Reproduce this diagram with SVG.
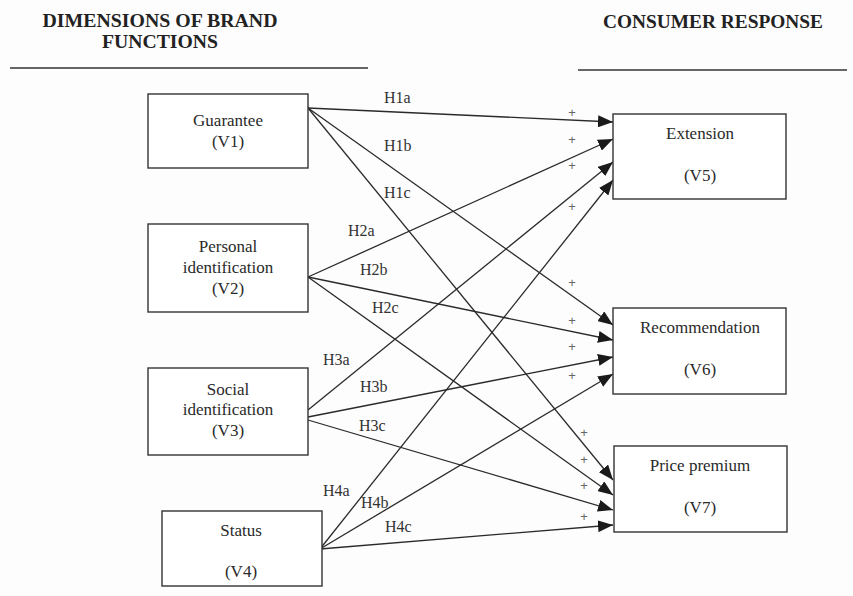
<svg xmlns="http://www.w3.org/2000/svg" width="853" height="596" viewBox="0 0 853 596">
<style>
.box{fill:#fff;stroke:#333;stroke-width:1.4}
.t{font-family:"Liberation Serif","Times New Roman",serif;font-size:17px;fill:#2a2a2a;text-anchor:middle}
.h{font-family:"Liberation Serif","Times New Roman",serif;font-size:19px;font-weight:bold;fill:#222;text-anchor:middle}
.lab{font-family:"Liberation Serif","Times New Roman",serif;font-size:16px;fill:#333}
.p{font-family:"Liberation Sans",Arial,sans-serif;font-size:13px;fill:#666;text-anchor:middle}
.c{stroke:#2a2a2a;stroke-width:1.3;fill:none;marker-end:url(#ah)}
.rule{stroke:#333;stroke-width:1.4}
</style>
<defs>
<marker id="ah" markerUnits="userSpaceOnUse" markerWidth="16" markerHeight="12" refX="15" refY="6" orient="auto">
<path d="M0,0 L15,6 L0,12 z" fill="#1a1a1a"/>
</marker>
</defs>
<rect width="853" height="596" fill="#fdfdfd"/>
<g id="headers">
<text class="h" x="160" y="27" textLength="235" lengthAdjust="spacingAndGlyphs">DIMENSIONS OF BRAND</text>
<text class="h" x="160" y="48" textLength="116" lengthAdjust="spacingAndGlyphs">FUNCTIONS</text>
<line class="rule" x1="10" y1="68" x2="368" y2="68"/>
<text class="h" x="713" y="28" textLength="220" lengthAdjust="spacingAndGlyphs">CONSUMER RESPONSE</text>
<line class="rule" x1="578" y1="70" x2="847" y2="70"/>
</g>
<g id="connectors">
<line class="c" x1="308" y1="108" x2="613" y2="122"/>
<line class="c" x1="308" y1="108" x2="613" y2="325"/>
<line class="c" x1="308" y1="108" x2="613" y2="480"/>
<line class="c" x1="308" y1="277" x2="613" y2="139"/>
<line class="c" x1="308" y1="277" x2="613" y2="340"/>
<line class="c" x1="308" y1="277" x2="613" y2="495"/>
<line class="c" x1="308" y1="410" x2="613" y2="162"/>
<line class="c" x1="308" y1="417" x2="613" y2="357"/>
<line class="c" x1="308" y1="420" x2="613" y2="510"/>
<line class="c" x1="320" y1="549" x2="613" y2="180"/>
<line class="c" x1="320" y1="549" x2="613" y2="374"/>
<line class="c" x1="320" y1="549" x2="613" y2="525"/>
<text class="lab" x="384" y="103">H1a</text>
<text class="lab" x="384" y="151">H1b</text>
<text class="lab" x="384" y="198">H1c</text>
<text class="lab" x="348" y="236">H2a</text>
<text class="lab" x="360" y="275">H2b</text>
<text class="lab" x="372" y="313">H2c</text>
<text class="lab" x="323" y="365">H3a</text>
<text class="lab" x="360" y="392">H3b</text>
<text class="lab" x="359" y="431">H3c</text>
<text class="lab" x="323" y="496">H4a</text>
<text class="lab" x="361" y="508">H4b</text>
<text class="lab" x="385" y="532">H4c</text>
<text class="p" x="572" y="117">+</text>
<text class="p" x="572" y="144">+</text>
<text class="p" x="572" y="170">+</text>
<text class="p" x="572" y="211">+</text>
<text class="p" x="572" y="287">+</text>
<text class="p" x="572" y="325">+</text>
<text class="p" x="572" y="351">+</text>
<text class="p" x="572" y="380">+</text>
<text class="p" x="584" y="437">+</text>
<text class="p" x="584" y="464">+</text>
<text class="p" x="584" y="490">+</text>
<text class="p" x="584" y="521">+</text>
</g>
<g id="v1">
<rect class="box" x="148" y="94" width="160" height="74"/>
<text class="t" x="228" y="126">Guarantee</text>
<text class="t" x="228" y="147">(V1)</text>
</g>
<g id="v2">
<rect class="box" x="148" y="224" width="160" height="88"/>
<text class="t" x="228" y="252">Personal</text>
<text class="t" x="228" y="273">identification</text>
<text class="t" x="228" y="294">(V2)</text>
</g>
<g id="v3">
<rect class="box" x="148" y="368" width="160" height="87"/>
<text class="t" x="228" y="395">Social</text>
<text class="t" x="228" y="415">identification</text>
<text class="t" x="228" y="436">(V3)</text>
</g>
<g id="v4">
<rect class="box" x="162" y="511" width="160" height="75"/>
<text class="t" x="241" y="536">Status</text>
<text class="t" x="241" y="577">(V4)</text>
</g>
<g id="v5">
<rect class="box" x="613" y="114" width="173" height="85"/>
<text class="t" x="700" y="139">Extension</text>
<text class="t" x="700" y="181">(V5)</text>
</g>
<g id="v6">
<rect class="box" x="613" y="308" width="173" height="86"/>
<text class="t" x="700" y="333">Recommendation</text>
<text class="t" x="700" y="375">(V6)</text>
</g>
<g id="v7">
<rect class="box" x="614" y="446" width="173" height="86"/>
<text class="t" x="700" y="471">Price premium</text>
<text class="t" x="700" y="513">(V7)</text>
</g>
</svg>
